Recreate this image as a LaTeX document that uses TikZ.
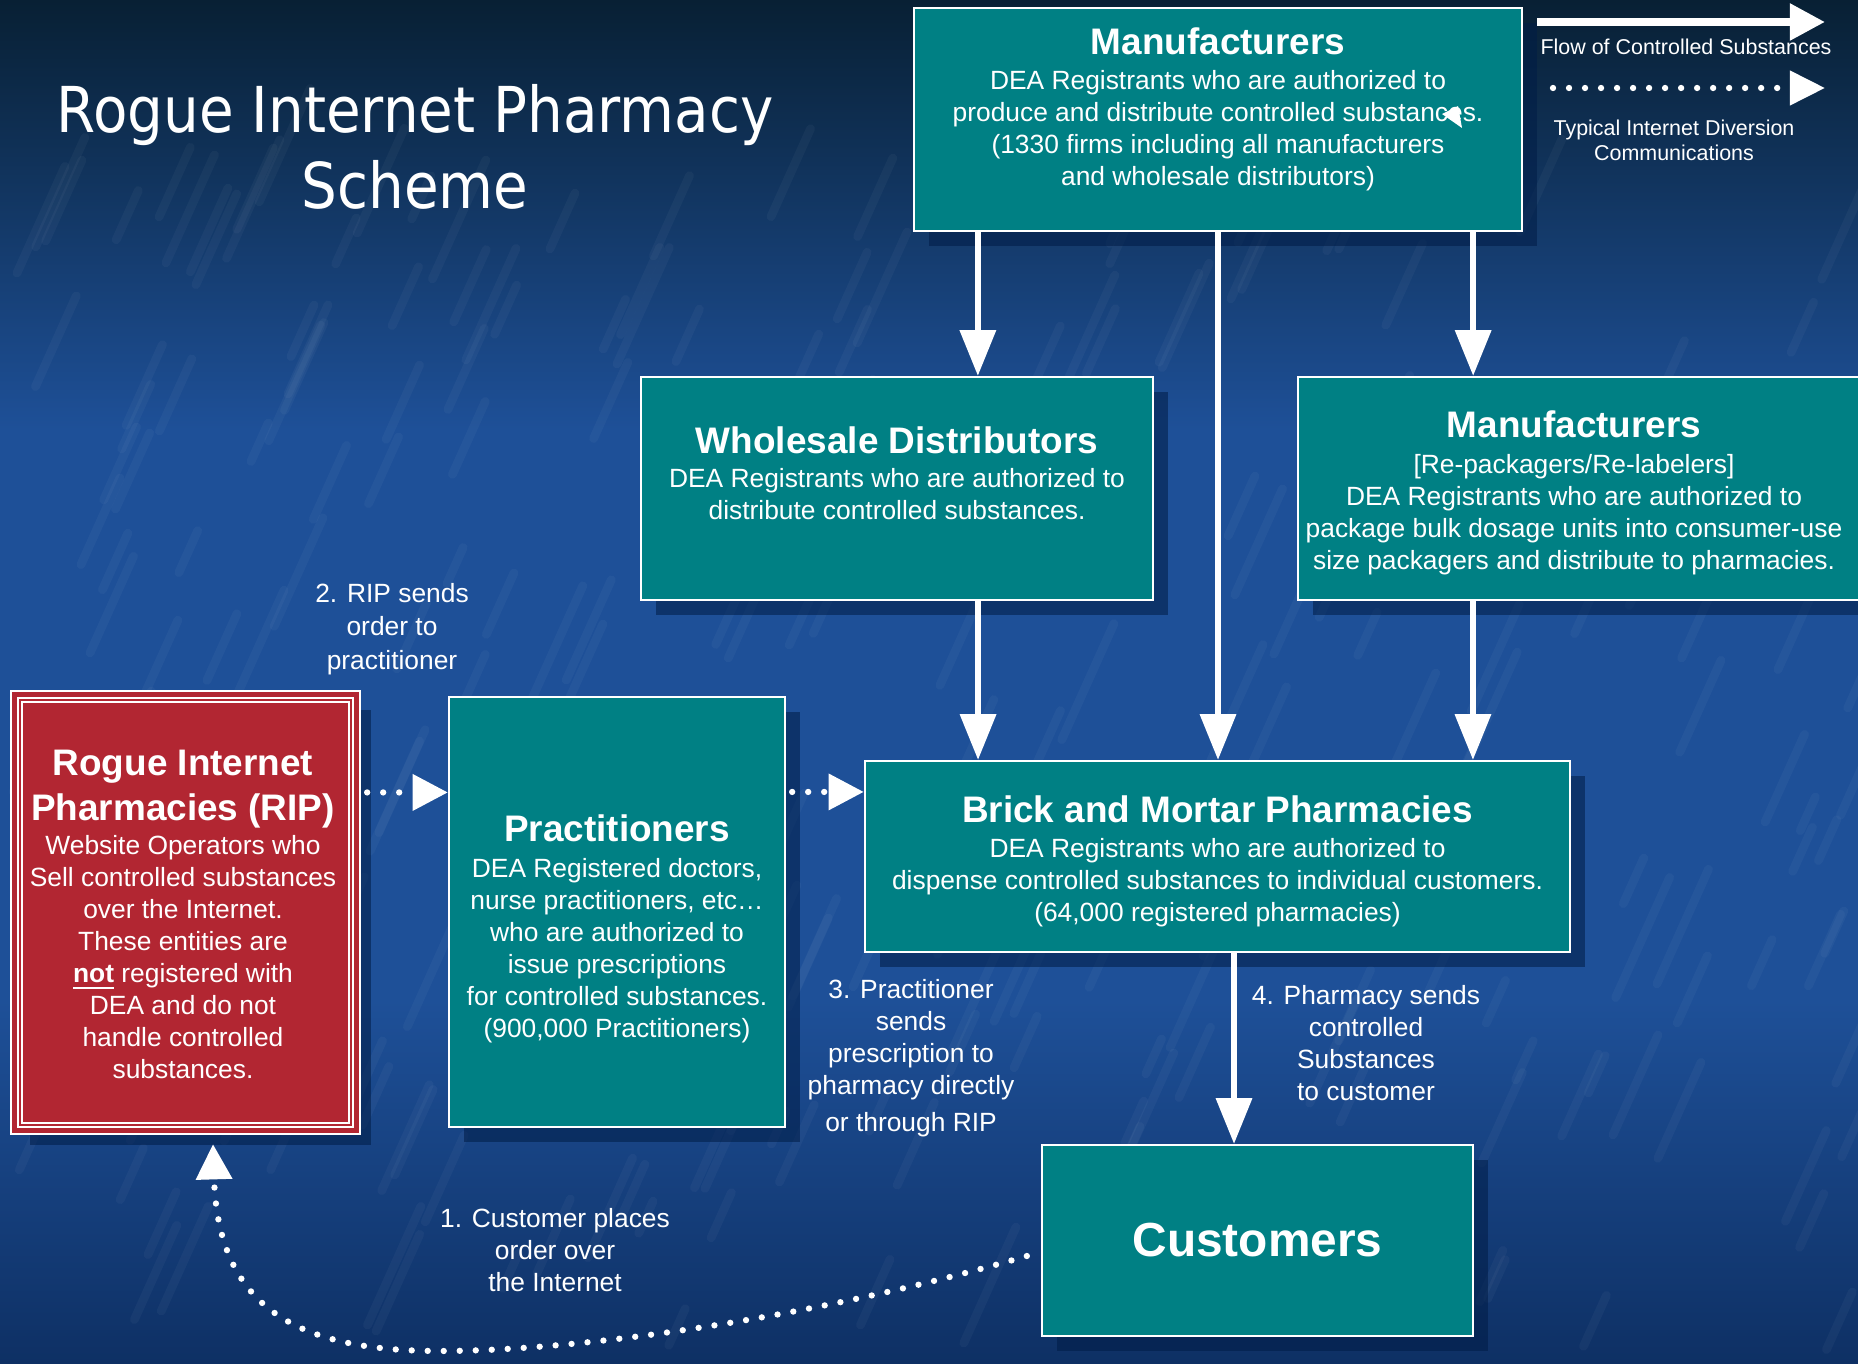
\documentclass[tikz,border=0pt]{standalone}
\usepackage{fontspec}
\setmainfont{Liberation Sans}
\newfontfamily\titlefont{DejaVu Sans}[FakeStretch=0.89]
\usetikzlibrary{arrows.meta,shadows}

\definecolor{bgtop}{RGB}{8,32,52}
\definecolor{bgmid}{RGB}{30,80,152}
\definecolor{bgbot}{RGB}{14,48,100}
\definecolor{boxteal}{RGB}{0,128,132}
\definecolor{ripred}{RGB}{178,38,50}
\definecolor{shadowblue}{RGB}{0,28,70}

\newcommand\boxbody{\fontsize{7.5}{9.1}\selectfont}
\newcommand\boxhead{\fontsize{10.5}{12.6}\selectfont\bfseries}
\newcommand\legendfont{\fontsize{6.1}{7.1}\selectfont}

\begin{document}
\begin{tikzpicture}[x=0.01cm, y=-0.01cm,
		box/.style={draw=white, line width=0.6pt, fill=boxteal, inner sep=0pt,
			drop shadow={shadow xshift=0.15cm, shadow yshift=-0.15cm, fill=shadowblue, opacity=0.55}},
		ripbox/.style={box, fill=ripred, double=ripred, double distance=1.4pt},
		boxtext/.style={text=white, align=center, font=\boxbody, inner sep=0pt, anchor=north},
		flow/.style={white, line width=1.7pt, -{Triangle[width=10pt,length=13pt]}},
		dots/.style={white, line width=1.8pt, line cap=round, dash pattern=on 0pt off 0.16cm, -{Triangle[width=10pt,length=10pt]}},
		lbl/.style={text=white, align=center, font=\boxbody, inner sep=0pt},
		streak/.style={white, opacity=0.035, line width=2.5pt, line cap=round}
	]
	% Background
	\useasboundingbox (0,0) rectangle (1858,1364);
	\fill[bgmid] (0,0) rectangle (1858,1364);
	\shade[top color=bgtop, bottom color=bgmid] (0,0) rectangle (1858,430);
	\shade[top color=bgmid, bottom color=bgbot] (0,1000) rectangle (1858,1364);
	\pgfmathsetseed{42}
	\foreach \k in {1,...,260}{
		\pgfmathsetmacro{\sx}{rnd*1858}
		\pgfmathsetmacro{\sy}{200+rnd*1164}
		\pgfmathsetmacro{\sl}{30+rnd*90}
		\draw[streak] (\sx,\sy) -- ++(0.45*\sl,-\sl);
	}

	% Title and legend
	\node[lbl, font=\titlefont\fontsize{18}{21.6}\selectfont] (title) at (415,147) {Rogue Internet Pharmacy\\Scheme};
	\coordinate (flowA) at (1537,22);
	\coordinate (flowB) at (1825,22);
	\draw[white, line width=2.3pt, -{Triangle[width=10pt,length=10pt]}] (flowA) -- (flowB);
	\node[lbl, font=\legendfont] (flowtxt) at (1686,47) {Flow of Controlled Substances};
	\coordinate (divA) at (1553,88);
	\coordinate (divB) at (1825,88);
	\draw[dots, -{Triangle[width=9.5pt,length=10pt]}] (divA) -- (divB);
	\node[lbl, font=\legendfont] (divtxt) at (1674,140) {Typical Internet Diversion\\Communications};

	% Boxes
	\node[box, minimum width=6.08cm, minimum height=2.23cm] (mfr) at (1218,119.5) {};
	\node[boxtext] (mfrtxt) at (1218,27) {{\boxhead Manufacturers}\\[0.9pt]DEA Registrants who are authorized to\\produce and distribute controlled substances.\\(1330 firms including all manufacturers\\and wholesale distributors)};
	\fill[white] (1442,114) -- (1458,106) -- (1462,128) -- cycle;
	\node[box, minimum width=5.12cm, minimum height=2.23cm] (wsd) at (897,488.5) {};
	\node[boxtext] (wsdtxt) at (897,426) {{\boxhead Wholesale Distributors}\\[0.65pt]DEA Registrants who are authorized to\\distribute controlled substances.};
	\node[box, minimum width=5.80cm, minimum height=2.23cm] (rpk) at (1588,488.5) {};
	\node[boxtext] (rpktxt) at (1574,410.5) {{\boxhead Manufacturers}\\[1pt][Re-packagers/Re-labelers]\\DEA Registrants who are authorized to\\package bulk dosage units into consumer-use\\size packagers and distribute to pharmacies.};
	\node[box, minimum width=3.36cm, minimum height=4.30cm] (prac) at (617,912) {};
	\node[boxtext] (practxt) at (617,814.5) {{\boxhead Practitioners}\\[1pt]DEA Registered doctors,\\nurse practitioners, etc\dots\\who are authorized to\\issue prescriptions\\for controlled substances.\\(900,000 Practitioners)};
	\node[ripbox, minimum width=3.41cm, minimum height=4.35cm] (rip) at (185.5,912.5) {};
	\draw[white, line width=0.6pt] ([shift={(0.08cm,-0.08cm)}]rip.north west) rectangle ([shift={(-0.08cm,0.08cm)}]rip.south east);
	\node[boxtext] (riptxt) at (183,749) {{\boxhead Rogue Internet}\\[2.2pt]{\boxhead Pharmacies (RIP)}\\[0.5pt]Website Operators who\\Sell controlled substances\\over the Internet.\\These entities are\\\underline{\textbf{not}} registered with\\DEA and do not\\handle controlled\\substances.};
	\node[box, minimum width=7.05cm, minimum height=1.91cm] (bmp) at (1217.5,856.5) {};
	\node[boxtext] (bmptxt) at (1217.5,795) {{\boxhead Brick and Mortar Pharmacies}\\[0.8pt]DEA Registrants who are authorized to\\dispense controlled substances to individual customers.\\(64,000 registered pharmacies)};
	\node[box, minimum width=4.31cm, minimum height=1.91cm, text=white, font=\fontsize{13.6}{16}\selectfont\bfseries] (cust) at (1257.5,1240.5) {Customers};

	% Flow of controlled substances
	\draw[flow] ([xshift=-2.4cm]mfr.south) -- ([xshift=-2.4cm]mfr.south |- wsd.north);
	\draw[flow] (mfr.south) -- (mfr.south |- bmp.north);
	\draw[flow] ([xshift=2.55cm]mfr.south) -- ([xshift=2.55cm]mfr.south |- rpk.north);
	\draw[flow] ([xshift=0.81cm]wsd.south) -- ([xshift=0.81cm]wsd.south |- bmp.north);
	\draw[flow] ([xshift=-1.15cm]rpk.south) -- ([xshift=-1.15cm]rpk.south |- bmp.north);
	\draw[flow] ([xshift=0.165cm]bmp.south) -- ([xshift=0.165cm]bmp.south |- cust.north);

	% Internet diversion
	\draw[dots, shorten <=0.1cm] ([yshift=1.2cm]rip.east) -- ([yshift=1.2cm]rip.east -| prac.west);
	\draw[dots, shorten <=0.06cm] ([yshift=1.2cm]prac.east) -- ([yshift=1.2cm]prac.east -| bmp.west);
	\draw[dots] ([shift={(-0.14cm,-0.155cm)}]cust.west) .. controls (828,1314) and (590,1351) .. (440,1351)
		.. controls (300,1351) and (218,1310) .. ([shift={(0.275cm,-0.13cm)}]rip.south);

	% Step labels
	\node[lbl] (lbl1) at (555,1250) {1. Customer places\\order over\\the Internet};
	\node[lbl] (lbl2) at (392,629) {2. RIP sends\\[0.5pt]order to\\[0.5pt]practitioner};
	\node[lbl] (lbl3) at (911,1058) {3. Practitioner\\sends\\prescription to\\pharmacy directly\\[1.5pt]or through RIP};
	\node[lbl] (lbl4) at (1366,1043) {4. Pharmacy sends\\controlled\\Substances\\to customer};
\end{tikzpicture}
\end{document}
